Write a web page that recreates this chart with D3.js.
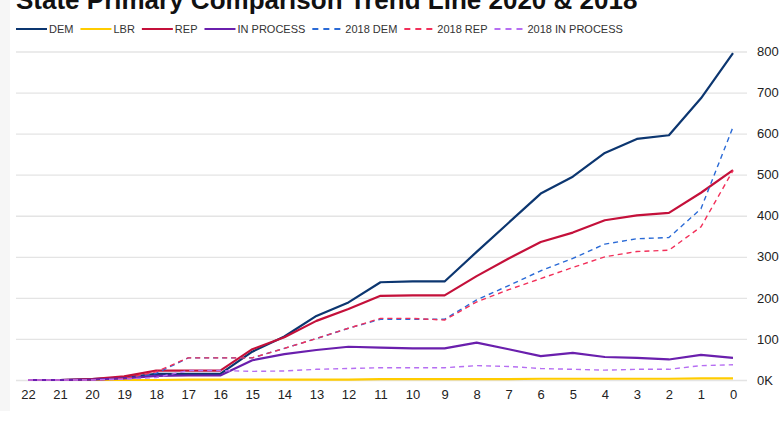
<!DOCTYPE html>
<html>
<head>
<meta charset="utf-8">
<script src="https://cdn.jsdelivr.net/npm/d3@7"></script>
<style>
	body { margin: 0; background: #fff; font-family: "Liberation Sans", Arial, sans-serif; }
	svg { display: block; }
</style>
</head>
<body>
<div id="chart"></div>
<script>
// days before the primary
let days = [22, 21, 20, 19, 18, 17, 16, 15, 14, 13, 12, 11, 10, 9, 8, 7, 6, 5, 4, 3, 2, 1, 0];

let dem = [0, 0, 2, 6, 15, 15, 15, 69, 106, 156, 189, 238, 240, 240, 312, 383, 454, 495, 553, 587, 596, 686, 796];
let lbr = [0, 0, 0, 0, 0, 1, 1, 1, 1, 1, 1, 2, 2, 2, 2, 2, 3, 3, 3, 3, 3, 4, 4];
let rep = [0, 0, 2, 9, 23, 23, 23, 75, 104, 144, 173, 205, 206, 206, 253, 296, 336, 359, 389, 401, 407, 456, 511];
let inProcess = [0, 0, 1, 4, 10, 11, 11, 48, 63, 73, 81, 79, 77, 77, 91, 75, 58, 66, 56, 54, 50, 61, 54];
let dem2018 = [0, 0, 0, 4, 16, 54, 54, 54, 77, 101, 126, 148, 148, 148, 195, 230, 266, 296, 331, 344, 347, 417, 616];
let rep2018 = [0, 0, 0, 3, 20, 54, 54, 54, 77, 101, 126, 150, 150, 146, 190, 220, 247, 274, 300, 313, 316, 373, 510];
let inProcess2018 = [0, 0, 0, 2, 6, 23, 23, 21, 22, 26, 28, 30, 30, 30, 35, 33, 28, 26, 24, 26, 26, 35, 37];

let yTicks = [0, 100, 200, 300, 400, 500, 600, 700, 800];
let yTickLabels = ["0K", "100", "200", "300", "400", "500", "600", "700", "800"];

let series = [
	{ name: "DEM", values: dem, color: "#0c3670", dashed: false },
	{ name: "LBR", values: lbr, color: "#ffcc00", dashed: false },
	{ name: "REP", values: rep, color: "#c4103a", dashed: false },
	{ name: "IN PROCESS", values: inProcess, color: "#6a1fad", dashed: false },
	{ name: "2018 DEM", values: dem2018, color: "#2a6ad6", dashed: true },
	{ name: "2018 REP", values: rep2018, color: "#f2305a", dashed: true },
	{ name: "2018 IN PROCESS", values: inProcess2018, color: "#b66ef2", dashed: true }
];

let width = 780;
let height = 422;

let svg = d3.select("#chart")
	.append("svg")
	.attr("width", width)
	.attr("height", height);

// grey strip on the left edge
svg.append("rect")
	.attr("x", 0).attr("y", 0)
	.attr("width", 10).attr("height", 411)
	.attr("fill", "#f6f6f6");

let x = d3.scaleLinear().domain([22, 0]).range([28, 733]);
let y = d3.scaleLinear().domain([0, 800]).range([380, 51.5]);

// title (its top is cut off in the original too)
svg.append("text")
	.attr("x", 16)
	.attr("y", 9)
	.attr("font-size", 26)
	.attr("font-weight", "bold")
	.attr("fill", "#111")
	.text("State Primary Comparison Trend Line 2020 & 2018");

// gridlines + y labels
let yAxis = d3.axisRight(y)
	.tickValues(yTicks)
	.tickSize(731)
	.tickPadding(10)
	.tickFormat((d, i) => yTickLabels[i]);

let gy = svg.append("g")
	.attr("transform", "translate(16,0)")
	.call(yAxis);
gy.select(".domain").remove();
gy.selectAll(".tick line").attr("stroke", "#e4e4e4").attr("stroke-width", 1.3);
gy.selectAll(".tick text")
	.attr("font-size", 13)
	.attr("fill", "#222")
	.attr("font-family", "Liberation Sans, Arial, sans-serif");

// x labels
let xAxis = d3.axisBottom(x)
	.tickValues(days)
	.tickSize(0)
	.tickPadding(10)
	.tickFormat(d => d);

let gx = svg.append("g")
	.attr("transform", "translate(0,380)")
	.call(xAxis);
gx.select(".domain").remove();
gx.selectAll(".tick text")
	.attr("font-size", 13)
	.attr("fill", "#222")
	.attr("font-family", "Liberation Sans, Arial, sans-serif");

let line = d3.line()
	.x((d, i) => x(days[i]))
	.y(d => y(d));

svg.selectAll(".series")
	.data(series)
	.enter()
	.append("path")
	.attr("class", "series")
	.attr("d", d => line(d.values))
	.attr("fill", "none")
	.attr("stroke", d => d.color)
	.attr("stroke-width", d => d.dashed ? 1.4 : 2.2)
	.attr("stroke-dasharray", d => d.dashed ? "5,4" : null)
	.attr("stroke-linejoin", "round");

// legend
let lx = 16;
let legend = svg.append("g");
series.forEach(s => {
	legend.append("line")
		.attr("x1", lx).attr("x2", lx + 31)
		.attr("y1", 29).attr("y2", 29)
		.attr("stroke", s.color)
		.attr("stroke-width", 2)
		.attr("stroke-dasharray", s.dashed ? "6,5" : null);
	let t = legend.append("text")
		.attr("x", lx + 33)
		.attr("y", 33)
		.attr("font-size", 11)
		.attr("fill", "#333")
		.text(s.name);
	lx += 33 + t.node().getComputedTextLength() + 7;
});
</script>
</body>
</html>
